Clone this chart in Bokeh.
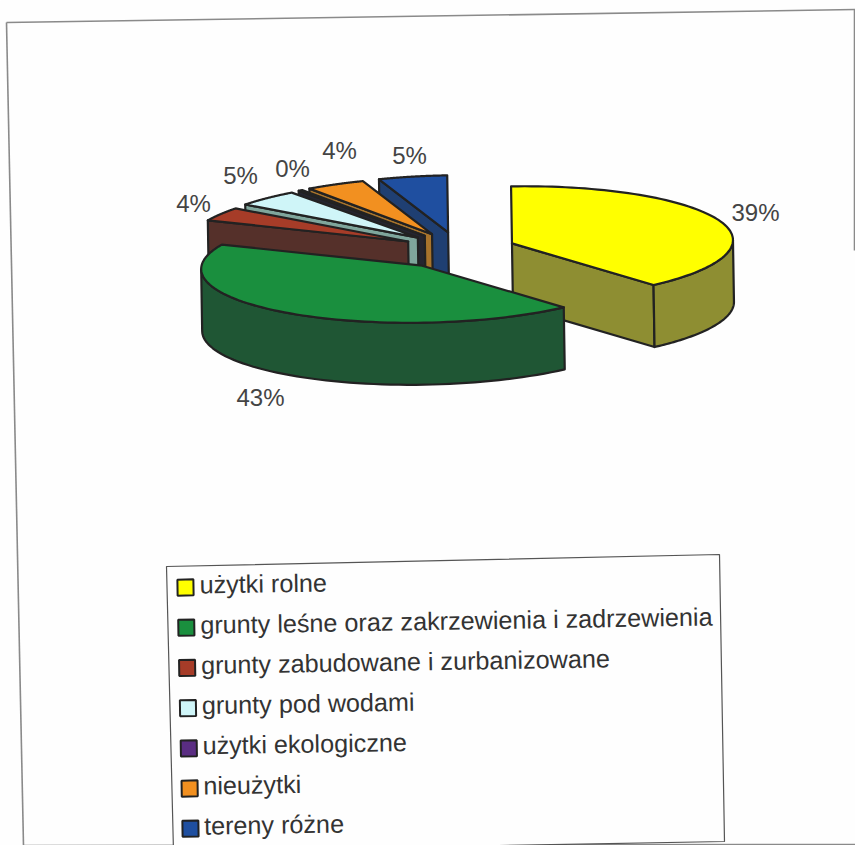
import numpy as np
from bokeh.plotting import figure
from bokeh.models import ColumnDataSource
from bokeh.core.properties import value
from bokeh.embed import file_html
from bokeh.resources import INLINE

categories = ["użytki rolne", "grunty leśne oraz zakrzewienia i zadrzewienia",
              "grunty zabudowane i zurbanizowane", "grunty pod wodami",
              "użytki ekologiczne", "nieużytki", "tereny różne"]
shares = [39.0, 43.0, 3.8, 4.6, 0.3, 4.3, 5.0]
pct_labels = ["39%", "43%", "4%", "5%", "0%", "4%", "5%"]
top_colors = ["#ffff00", "#1a8f3e", "#a63c28", "#cff5f8", "#5a2d82", "#f29020", "#1f4fa0"]
side_colors = ["#8e8e32", "#1f5634", "#55302a", "#7fa69c", "#25252f", "#a8742c", "#1f3f72"]

# layout
CX, CY, A, B, DEPTH = 457.0, 250.0, 221.0, 57.0, 62.0
EXPL_X, EXPL_Y = 58.0, 18.5
INK = "#222222"
PAPER = "#fefefe"
SKEW = 0.016
FONT = value("Liberation Sans")
LABEL_X = [755, 260, 193, 240, 292, 339, 409]
LABEL_Y = [212, 397, 203, 175, 168, 150, 155]

p = figure(width=855, height=845, x_range=(0, 855), y_range=(845, 0),
           output_backend="svg", toolbar_location=None, min_border=0,
           background_fill_color=PAPER, border_fill_color=PAPER, outline_line_color=None)
p.axis.visible = False
p.grid.visible = False

# page frame (scanned, slightly skewed)
FRAME = dict(line_color="#8a8a8a", line_width=1.6)
p.line([6, 858], [22, 9], **FRAME)
p.line([6, 23], [22, 845], **FRAME)
p.line([23, 855], [845, 844], **FRAME)
p.line([854, 854], [9, 250], **FRAME)

fr = np.array(shares) / sum(shares)
edges = np.concatenate([[0], np.cumsum(fr)]) * 2 * np.pi


def rot(x, y):
    """The scanned page is turned by SKEW around the pie's centre."""
    x, y = np.asarray(x, float), np.asarray(y, float)
    return CX + (x - CX) + SKEW * (y - CY), CY + (y - CY) - SKEW * (x - CX)


def pt(ax, ay, t):
    return ax + A * np.sin(t), ay - B * np.cos(t)


def face(xs, ys, color):
    xr, yr = rot(xs, ys)
    p.patch(list(xr), list(yr), fill_color=color, line_color=INK, line_width=2.2, line_join="round")


order = [0, 6, 5, 4, 3, 2, 1]
for i in order:
    t0, t1 = edges[i], edges[i + 1]
    mid = (t0 + t1) / 2
    ax, ay = CX + EXPL_X * np.sin(mid), CY - EXPL_Y * np.cos(mid)
    # cut faces
    for t, nrm in ((t0, t0 - np.pi / 2), (t1, t1 + np.pi / 2)):
        if np.cos(nrm) < -1e-6:
            ex, ey = pt(ax, ay, t)
            face([ax, ex, ex, ax], [ay, ey, ey + DEPTH, ay + DEPTH], side_colors[i])
    # outer wall (front half only)
    w0, w1 = max(t0, np.pi / 2), min(t1, 3 * np.pi / 2)
    if w1 > w0:
        tt = np.linspace(w0, w1, 60)
        xt, yt = pt(ax, ay, tt)
        face(np.r_[xt, xt[::-1]], np.r_[yt, yt[::-1] + DEPTH], side_colors[i])
    # top
    tt = np.linspace(t0, t1, 80)
    xt, yt = pt(ax, ay, tt)
    face(np.r_[ax, xt], np.r_[ay, yt], top_colors[i])

# percent labels
src = ColumnDataSource(dict(x=LABEL_X, y=LABEL_Y, t=pct_labels))
p.text("x", "y", text="t", source=src, text_font=FONT, text_font_size="24px",
       text_color="#444444", text_align="center", text_baseline="middle")

# legend
p.patch([166, 719, 724, 173], [566, 554, 841, 851], fill_color=PAPER, line_color="#555555", line_width=1.2)
n = len(categories)
idx = np.arange(n)
lsrc = ColumnDataSource(dict(
    sx=185 + 0.83 * idx, sy=587 + 40.2 * idx,
    tx=199 + 0.75 * idx, ty=584 + 40.2 * idx,
    c=top_colors, t=categories))
p.rect("sx", "sy", width=16, height=16, angle=SKEW, source=lsrc, fill_color="c",
       line_color=INK, line_width=2)
p.text("tx", "ty", text="t", source=lsrc, text_font=FONT, text_font_size="25.2px", angle=SKEW,
       text_color="#333333", text_align="left", text_baseline="middle")

open("out.html", "w").write(file_html(p, INLINE))
